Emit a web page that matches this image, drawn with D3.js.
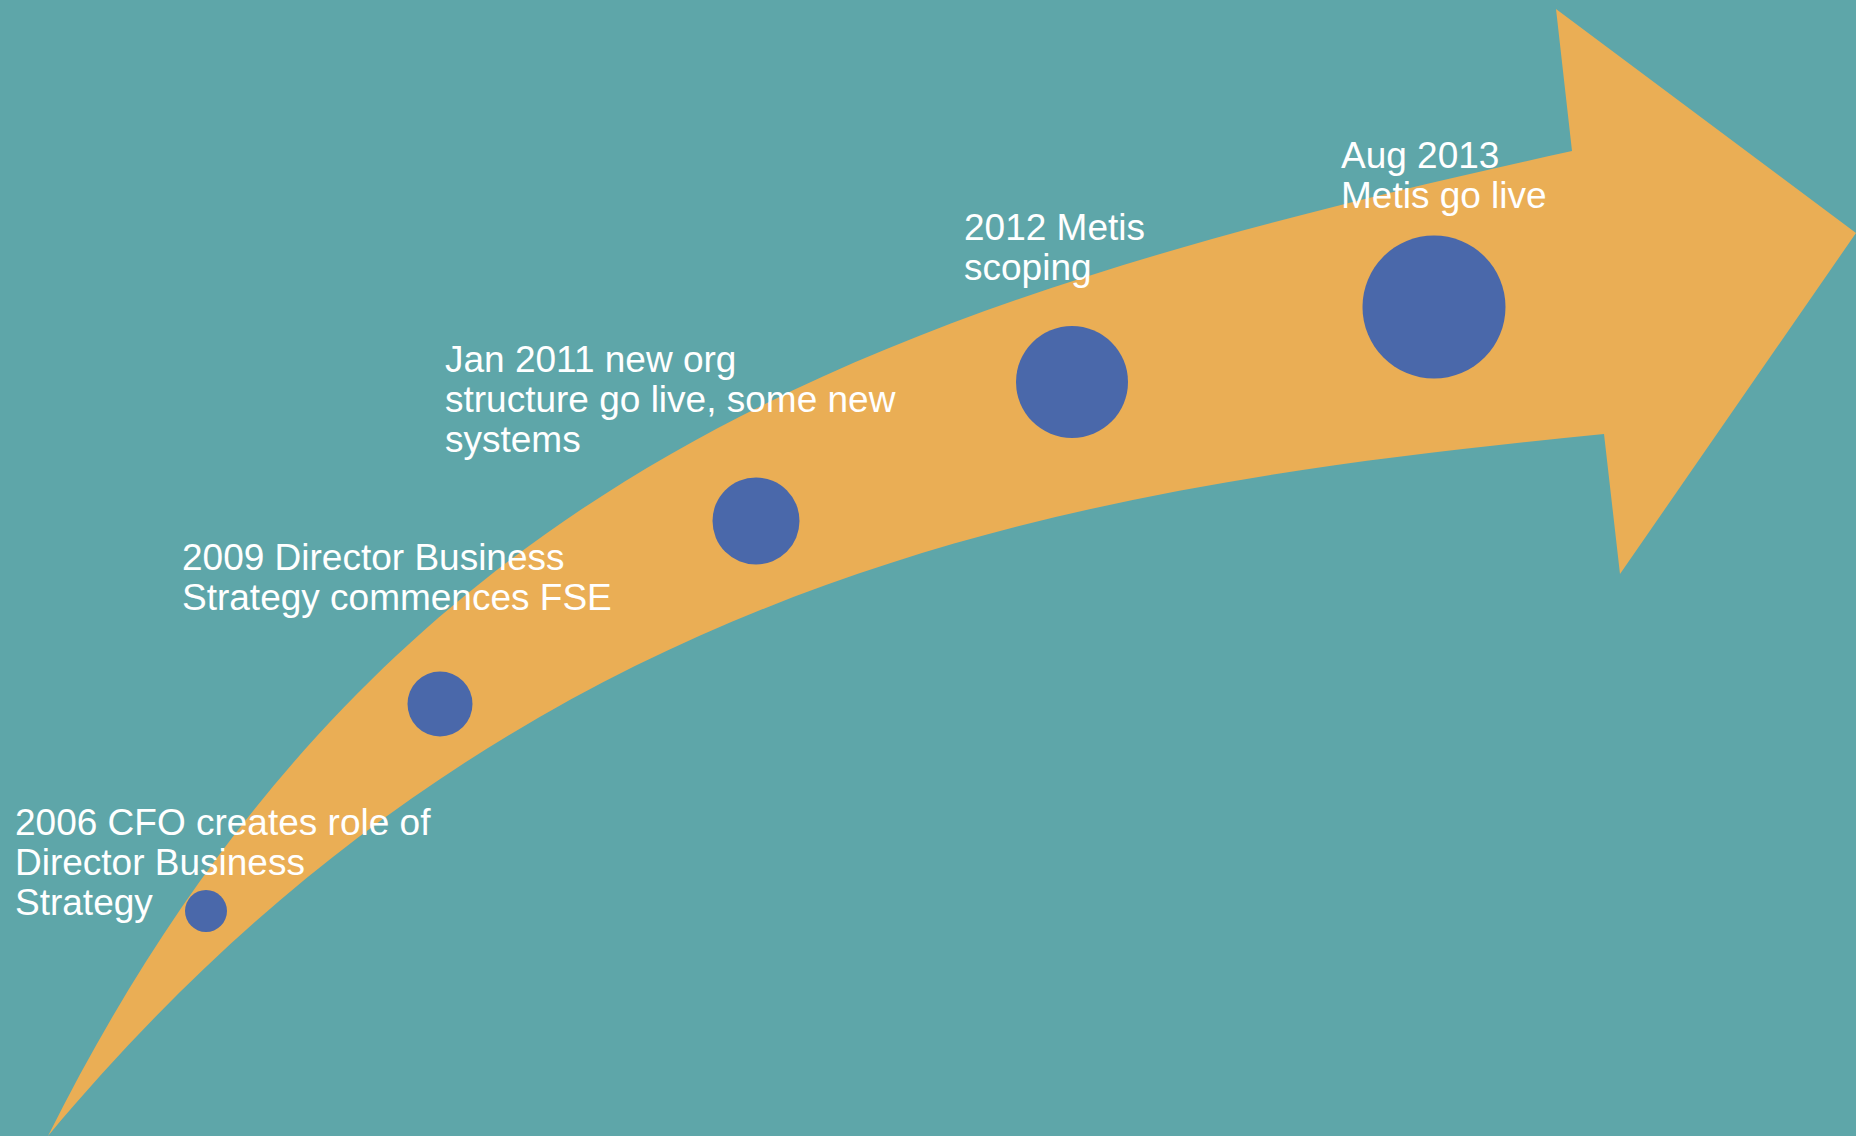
<!DOCTYPE html>
<html>
<head>
<meta charset="utf-8">
<script src="https://cdn.jsdelivr.net/npm/d3@7"></script>
<style>
  body { margin: 0; background: #5ea6a9; overflow: hidden; }
  svg { display: block; }
</style>
</head>
<body>
<div id="content"></div>
<script>
// arrow outline in picture units (0..1856, 0..1136)
// each edge is one cubic bezier: start, control 1, control 2, end
const upperEdge = [[48, 1136], [378, 476], [872, 305], [1572, 151]]
const headPoints = [[1556, 9], [1856, 233], [1620, 574], [1604, 434]]
const lowerEdge = [[48, 1136], [528, 560], [1104, 484], [1604, 434]]

// milestones
const milestones = ["2006", "2009", "2011", "2012", "2013"]
const milestoneX = [206, 440, 756, 1072, 1434]
const milestoneY = [911, 704, 521, 382, 307]
const milestoneR = [21, 32.5, 43.5, 56, 71.5]
const labelLines = [
  ["2006 CFO creates role of", "Director Business", "Strategy"],
  ["2009 Director Business", "Strategy commences FSE"],
  ["Jan 2011 new org", "structure go live, some new", "systems"],
  ["2012 Metis", "scoping"],
  ["Aug 2013", "Metis go live"]
]
const labelX = [15, 182, 445, 964, 1341]
const labelY = [835, 570, 372, 240, 168]

const outerWidth = 1856
const outerHeight = 1136

const svg = d3.select("#content").append("svg")
    .attr("width", outerWidth)
    .attr("height", outerHeight)

svg.append("rect")
    .attr("width", outerWidth)
    .attr("height", outerHeight)
    .style("fill", "#5ea6a9")

const xScale = d3.scaleLinear().domain([0, 1856]).range([0, outerWidth])
const yScale = d3.scaleLinear().domain([0, 1136]).range([0, outerHeight])

const pt = p => [xScale(p[0]), yScale(p[1])]

// upper edge -> head -> lower edge back to the tail
const arrow = d3.path()
const u = upperEdge.map(pt)
const l = lowerEdge.map(pt)
arrow.moveTo(...u[0])
arrow.bezierCurveTo(...u[1], ...u[2], ...u[3])
headPoints.map(pt).forEach(p => arrow.lineTo(...p))
arrow.bezierCurveTo(...l[2], ...l[1], ...l[0])
arrow.closePath()

svg.append("path")
    .attr("d", arrow.toString())
    .style("fill", "#eaae55")

// circles
svg.selectAll(".dot")
  .data(milestones)
  .enter().append("circle")
    .attr("class", "dot")
    .attr("cx", (d, i) => xScale(milestoneX[i]))
    .attr("cy", (d, i) => yScale(milestoneY[i]))
    .attr("r", (d, i) => xScale(milestoneR[i]))
    .style("fill", "#4a68aa")

// labels
const label = svg.selectAll(".label")
  .data(labelLines)
  .enter().append("text")
    .attr("class", "label")
    .attr("x", (d, i) => xScale(labelX[i]))
    .attr("y", (d, i) => yScale(labelY[i]))
    .style("fill", "#ffffff")
    .style("font-family", "'Liberation Sans', Arial, sans-serif")
    .style("font-size", "37px")

label.selectAll("tspan")
  .data((d, i) => d.map(line => ({line, i})))
  .enter().append("tspan")
    .attr("x", d => xScale(labelX[d.i]))
    .attr("dy", (d, j) => j === 0 ? 0 : 40)
    .text(d => d.line)
</script>
</body>
</html>
